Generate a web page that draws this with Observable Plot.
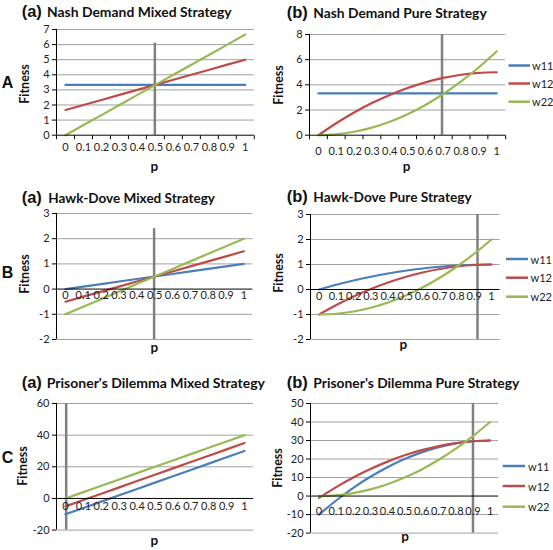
<!DOCTYPE html>
<html><head><meta charset="utf-8">
<script src="https://cdn.jsdelivr.net/npm/d3@7"></script>
<script src="https://cdn.jsdelivr.net/npm/@observablehq/plot@0.6"></script>
<style>
body{margin:0;background:#fff;}
#root{position:relative;width:553px;height:550px;overflow:hidden;font-family:Lato,"Open Sans",sans-serif;}
#root svg.chart{position:absolute;overflow:visible;}
#overlay{position:absolute;left:0;top:0;}
</style></head><body><div id="root"></div>
<script>
// ---------- data ----------
const p = [0, 0.1, 0.2, 0.3, 0.4, 0.5, 0.6, 0.7, 0.8, 0.9, 1];
const xTickLabels = ["0", "0.1", "0.2", "0.3", "0.4", "0.5", "0.6", "0.7", "0.8", "0.9", "1"];
const seriesNames = ["w11", "w12", "w22"];
const seriesColors = ["#4a7ebb", "#be4b48", "#98b954"];

const nashMixedW11 = [3.33, 3.33, 3.33, 3.33, 3.33, 3.33, 3.33, 3.33, 3.33, 3.33, 3.33];
const nashMixedW12 = [1.67, 2, 2.33, 2.67, 3, 3.33, 3.67, 4, 4.33, 4.67, 5];
const nashMixedW22 = [0, 0.67, 1.33, 2, 2.67, 3.33, 4, 4.67, 5.33, 6, 6.67];

const nashPureW11 = [3.33, 3.33, 3.33, 3.33, 3.33, 3.33, 3.33, 3.33, 3.33, 3.33, 3.33];
const nashPureW12 = [0, 0.95, 1.8, 2.55, 3.2, 3.75, 4.2, 4.55, 4.8, 4.95, 5];
const nashPureW22 = [0, 0.07, 0.27, 0.6, 1.07, 1.67, 2.4, 3.27, 4.27, 5.4, 6.67];

const hawkMixedW11 = [0, 0.1, 0.2, 0.3, 0.4, 0.5, 0.6, 0.7, 0.8, 0.9, 1];
const hawkMixedW12 = [-0.5, -0.3, -0.1, 0.1, 0.3, 0.5, 0.7, 0.9, 1.1, 1.3, 1.5];
const hawkMixedW22 = [-1, -0.7, -0.4, -0.1, 0.2, 0.5, 0.8, 1.1, 1.4, 1.7, 2];

const hawkPureW11 = [0, 0.19, 0.36, 0.51, 0.64, 0.75, 0.84, 0.91, 0.96, 0.99, 1];
const hawkPureW12 = [-1, -0.62, -0.28, 0.02, 0.28, 0.5, 0.68, 0.82, 0.92, 0.98, 1];
const hawkPureW22 = [-1, -0.97, -0.88, -0.73, -0.52, -0.25, 0.08, 0.47, 0.92, 1.43, 2];

const pdMixedW11 = [-10, -6, -2, 2, 6, 10, 14, 18, 22, 26, 30];
const pdMixedW12 = [-5, -1, 3, 7, 11, 15, 19, 23, 27, 31, 35];
const pdMixedW22 = [0, 4, 8, 12, 16, 20, 24, 28, 32, 36, 40];

const pdPureW11 = [-10, -2.4, 4.4, 10.4, 15.6, 20, 23.6, 26.4, 28.4, 29.6, 30];
const pdPureW12 = [-1, 4.8, 10, 14.6, 18.6, 22, 24.8, 27, 28.6, 29.6, 30];
const pdPureW22 = [0, 0.4, 1.6, 3.6, 6.4, 10, 14.4, 19.6, 25.6, 32.4, 40];

const rowLabels = ["A", "B", "C"];
const titles = [
  ["(a)", "Nash Demand Mixed Strategy"], ["(b)", "Nash Demand Pure Strategy"],
  ["(a)", "Hawk-Dove Mixed Strategy"], ["(b)", "Hawk-Dove Pure Strategy"],
  ["(a)", "Prisoner's Dilemma Mixed Strategy"], ["(b)", "Prisoner's Dilemma Pure Strategy"]
];
const yTicksNash = [0, 1, 2, 3, 4, 5, 6, 7];
const yTicksNashPure = [0, 2, 4, 6, 8];
const yTicksHawk = [-2, -1, 0, 1, 2, 3];
const yTicksPdMixed = [-20, 0, 20, 40, 60];
const yTicksPdPure = [-20, -10, 0, 10, 20, 30, 40, 50];
const markerP = [0.497, 0.693, 0.497, 0.919, 0.004, 0.9];
const markerTop = [6.1, 8, 2.4, 3, 60, 50];

// ---------- layout ----------
const panels = [
  {L: 55.5, R: 253.3, T: 29.3, B: 135, yd: [0, 7], ticks: yTicksNash, series: [nashMixedW11, nashMixedW12, nashMixedW22], curve: "linear", lblDy: 12.5, xTicks: true,
   tx: 21.7, tx2: 47, tw: 184.7, ty: 16.5, fx: 29, fy: 84, px: 154.3, py: 171},
  {L: 309.4, R: 505.6, T: 34.3, B: 135, yd: [0, 8], ticks: yTicksNashPure, series: [nashPureW11, nashPureW12, nashPureW22], curve: "catmull-rom", lblDy: 16, xTicks: true,
   tx: 286.7, tx2: 313.3, tw: 173.4, ty: 17.5, fx: 283, fy: 85, px: 406.7, py: 171,
   legend: {x1: 508.5, x2: 530, tx: 532, ys: [65.5, 83.5, 101.7]}},
  {L: 56, R: 252.3, T: 213.3, B: 339.3, yd: [-2, 3], ticks: yTicksHawk, series: [hawkMixedW11, hawkMixedW12, hawkMixedW22], curve: "linear", lblDy: 6.8, xTicks: false,
   tx: 21.7, tx2: 48.3, tw: 166.7, ty: 202.5, fx: 29, fy: 274, px: 154.3, py: 352},
  {L: 309.7, R: 499.3, T: 214.3, B: 339.3, yd: [-2, 3], ticks: yTicksHawk, series: [hawkPureW11, hawkPureW12, hawkPureW22], curve: "catmull-rom", lblDy: 6.8, xTicks: false,
   tx: 286.7, tx2: 313.3, tw: 158.4, ty: 201.7, fx: 283, fy: 273, px: 403.3, py: 349,
   legend: {x1: 506, x2: 528, tx: 530.5, ys: [259, 277.7, 296.7]}},
  {L: 56, R: 253, T: 402.7, B: 529.3, yd: [-20, 60], ticks: yTicksPdMixed, series: [pdMixedW11, pdMixedW12, pdMixedW22], curve: "linear", lblDy: 7.8, xTicks: false,
   tx: 21.7, tx2: 46.7, tw: 218.3, ty: 388.3, fx: 26.7, fy: 466, px: 154.3, py: 545},
  {L: 309.75, R: 497.9, T: 402.7, B: 532.3, yd: [-20, 50], ticks: yTicksPdPure, series: [pdPureW11, pdPureW12, pdPureW22], curve: "catmull-rom", lblDy: 15, xTicks: false,
   tx: 286.7, tx2: 313.3, tw: 206, ty: 388.3, fx: 282, fy: 468, px: 405, py: 541,
   legend: {x1: 502.7, x2: 525, tx: 528, ys: [466, 486, 506.7]}}
];
const rowLabelPos = [88, 278, 463];

const root = document.getElementById("root");
const boundaries = d3.range(12).map(i => -0.05 + i * 0.1);
const tickSymbol = {draw(ctx) { ctx.moveTo(0, 0); ctx.lineTo(0, 4); }};
const mL = 45, mR = 8, mT = 8, mB = 26;

panels.forEach((pn, k) => {
  const rows = [];
  pn.series.forEach((vals, s) => vals.forEach((v, i) => rows.push({p: p[i], value: v, series: seriesNames[s]})));
  const chart = Plot.plot({
    width: pn.R - pn.L + mL + mR,
    height: pn.B - pn.T + mT + mB,
    marginLeft: mL, marginRight: mR, marginTop: mT, marginBottom: mB,
    style: {fontFamily: "Lato, 'Open Sans', sans-serif", fontSize: "11px", color: "#000", background: "transparent", overflow: "visible"},
    x: {domain: [-0.05, 1.05], axis: null},
    y: {domain: pn.yd, label: null},
    color: {domain: seriesNames, range: seriesColors},
    marks: [
      Plot.ruleY(pn.ticks.filter(t => t !== 0), {stroke: "#a0a0a0", strokeWidth: 1}),
      Plot.ruleX([markerP[k]], {y1: pn.yd[0], y2: markerTop[k], stroke: "#808080", strokeWidth: 2.5}),
      Plot.line(rows, {x: "p", y: "value", stroke: "series", curve: pn.curve, strokeWidth: 2.2}),
      Plot.ruleY([0], {stroke: "#000", strokeWidth: 1}),
      Plot.ruleX([-0.05], {stroke: "#000", strokeWidth: 1}),
      pn.xTicks ? Plot.dot(boundaries, {x: d => d, y: () => 0, symbol: tickSymbol, stroke: "#000", fill: "none", strokeWidth: 1}) : null,
      Plot.axisY(pn.ticks, {anchor: "left", tickSize: 4, tickPadding: 3, tickFormat: d => String(d), fontSize: 11, label: null, fill: "#222"}),
      Plot.text(p, {x: d => d, y: () => 0, text: (d, i) => xTickLabels[i], dy: pn.lblDy, fontSize: 11, fill: "#222"})
    ]
  });
  chart.classList.add("chart");
  chart.style.left = (pn.L - mL) + "px";
  chart.style.top = (pn.T - mT) + "px";
  root.appendChild(chart);
});

// ---------- overlay text (titles, axis titles, legends) ----------
const NS = "http://www.w3.org/2000/svg";
const ov = document.createElementNS(NS, "svg");
ov.setAttribute("id", "overlay");
ov.setAttribute("width", 553); ov.setAttribute("height", 550);
root.appendChild(ov);
function txt(x, y, s, attrs) {
  const t = document.createElementNS(NS, "text");
  t.setAttribute("x", x); t.setAttribute("y", y);
  for (const k in attrs) t.setAttribute(k, attrs[k]);
  t.textContent = s; ov.appendChild(t); return t;
}
panels.forEach((pn, k) => {
  txt(pn.tx, pn.ty, titles[k][0], {"font-family": "'Liberation Sans', Arial, sans-serif", "font-weight": "bold", "font-size": 16.5, fill: "#111"});
  txt(pn.tx2, pn.ty, titles[k][1], {"font-family": "Lato, sans-serif", "font-weight": "bold", "font-size": 14, fill: "#111", textLength: pn.tw, lengthAdjust: "spacingAndGlyphs"});
  txt(0, 0, "Fitness", {"font-family": "Lato, sans-serif", "font-weight": "bold", "font-size": 12.5, "text-anchor": "middle", transform: `translate(${pn.fx},${pn.fy}) rotate(-90)`, fill: "#111"});
  txt(pn.px, pn.py, "p", {"font-family": "Lato, sans-serif", "font-weight": "bold", "font-size": 13.5, "text-anchor": "middle", fill: "#111"});
  if (pn.legend) {
    const lg = pn.legend;
    seriesNames.forEach((name, s) => {
      const ln = document.createElementNS(NS, "line");
      ln.setAttribute("x1", lg.x1); ln.setAttribute("x2", lg.x2);
      ln.setAttribute("y1", lg.ys[s]); ln.setAttribute("y2", lg.ys[s]);
      ln.setAttribute("stroke", seriesColors[s]); ln.setAttribute("stroke-width", 2.5);
      ov.appendChild(ln);
      txt(lg.tx, lg.ys[s], name, {"font-family": "Lato, sans-serif", "font-size": 11, "dominant-baseline": "central", fill: "#222"});
    });
  }
});
rowLabels.forEach((r, i) => txt(1.7, rowLabelPos[i], r, {"font-family": "'Liberation Sans', Arial, sans-serif", "font-weight": "bold", "font-size": 16, fill: "#111"}));
</script>
</body></html>
